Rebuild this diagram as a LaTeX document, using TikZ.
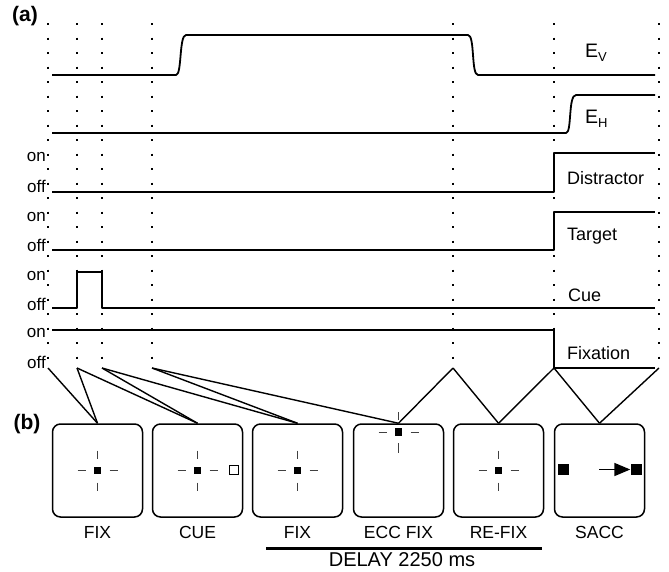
\documentclass[tikz,border=0pt]{standalone}
\usepackage{fontspec}
\setmainfont{Liberation Sans}
\usepackage{tikz}
\usetikzlibrary{positioning, arrows.meta, calc}

\begin{document}
\begin{tikzpicture}[x=1pt, y=-1pt,
    trace/.style={line width=1.8pt, line join=round},
    timeline/.style={line width=2.4pt, dash pattern=on 2.4pt off 12.1pt},
    link/.style={line width=1.4pt},
    panel/.style={draw, line width=1.5pt, rounded corners=8pt, minimum width=90pt,
                  minimum height=93pt, inner sep=0pt},
    fixpt/.style={fill=black, minimum size=7.5pt, inner sep=0pt},
    arm/.style={line width=1pt, black!75},
    sig/.style={anchor=west, font=\fontsize{18}{20}\selectfont, inner sep=0pt},
    eye/.style={anchor=west, font=\fontsize{19.5}{22}\selectfont, inner sep=0pt},
    onoff/.style={anchor=east, font=\fontsize{17}{19}\selectfont, inner sep=0pt},
    caption/.style={font=\fontsize{17.5}{20}\selectfont, inner sep=0pt},
    tag/.style={font=\fontsize{21}{24}\selectfont\bfseries, inner sep=0pt}
]
  \useasboundingbox (0,0) rectangle (669,571);

  % Event markers
  \foreach \x/\n in {48/d1, 77/d2, 102/d3, 152/d4, 453/d5, 554/d6, 659/d7}{
    \draw[timeline] (\x,23) -- (\x,368) coordinate (\n);
  }

  % Eye position traces
  \draw[trace] (52,75) -- (176,75) .. controls (182,75) and (179,35) .. (186,35)
    -- (468,35) .. controls (475,35) and (471,75) .. (478,75) -- (655,75);
  \draw[trace] (52,133) -- (566,133) .. controls (572,133) and (568,95) .. (576,95) -- (655,95);
  \node[eye] (ev) at (585,53) {E\raisebox{-0.35ex}{\fontsize{13}{13}\selectfont V}};
  \node[eye] (eh) at (585,119) {E\raisebox{-0.35ex}{\fontsize{13}{13}\selectfont H}};

  % Stimulus traces
  \draw[trace] (52,192) -- (554,192) -- (554,153) -- (655,153);
  \draw[trace] (52,250) -- (554,250) -- (554,212) -- (655,212);
  \draw[trace] (52,308) -- (77,308) -- (77,272) -- (102,272) -- (102,308) -- (655,308);
  \draw[trace] (52,330) -- (554,330) -- (554,368) -- (655,368);
  \node[sig] (dis) at (567,178) {Distractor};
  \node[sig] (tar) at (567,236) {Target};
  \node[sig] (cue) at (568,295) {Cue};
  \node[sig] (fix) at (567,353) {Fixation};

  % on / off levels
  \foreach \y/\n in {157/1, 217/2, 276/3, 333/4}{
    \node[onoff] (on\n) at (46,\y) {on};
  }
  \foreach \y/\n in {186/1, 245/2, 304/3, 362/4}{
    \node[onoff] (off\n) at (46,\y) {off};
  }

  \node[tag] (ta) at (25,16) {(a)};
  \node[tag] (tb) at (27,424) {(b)};

  % Screens
  \foreach \x/\n in {97.5/1, 197.5/2, 297.5/3, 398.5/4, 498.5/5, 599.5/6}{
    \node[panel] (p\n) at (\x,470.5) {};
  }

  % Fixation crosses
  \foreach \c in {p1, p2, p3, p5}{
    \node[fixpt] at (\c) {};
    \draw[arm] ($(\c)+(-20,0)$) -- ++(8,0);
    \draw[arm] ($(\c)+(12,0)$) -- ++(8,0);
    \draw[arm] ($(\c)+(0,-20)$) -- ++(0,8);
    \draw[arm] ($(\c)+(0,12)$) -- ++(0,8);
  }
  \node[draw, line width=0.9pt, minimum size=9.5pt, inner sep=0pt] (cuebox) at (234,470) {};

  \coordinate (ecc) at (398.5,432);
  \node[fixpt] at (ecc) {};
  \draw[arm] ($(ecc)+(-20,0)$) -- ++(8,0);
  \draw[arm] ($(ecc)+(12,0)$) -- ++(8,0);
  \draw[arm] ($(ecc)+(0,-20)$) -- ++(0,8);
  \draw[arm] ($(ecc)+(0,11)$) -- ++(0,10);

  \node[fixpt, minimum size=11pt] (sq1) at (563.5,469.5) {};
  \node[fixpt, minimum size=11pt] (sq2) at (636,469.5) {};
  \coordinate (sstart) at (599,469.5);
  \draw[line width=1.6pt, -{Triangle[length=16pt, width=13pt]}] (sstart) -- (sq2.west);

  % Markers to screens
  \draw[link] (d1) -- (p1.north);
  \draw[link] (d2) -- (p1.north);
  \draw[link] (d2) -- (p2.north);
  \draw[link] (d3) -- (p2.north);
  \draw[link] (d3) -- (p3.north);
  \draw[link] (d4) -- (p3.north);
  \draw[link] (d4) -- (p4.north);
  \draw[link] (d5) -- (p4.north);
  \draw[link] (d5) -- (p5.north);
  \draw[link] (d6) -- (p5.north);
  \draw[link] (d6) -- (p6.north);
  \draw[link] (d7) -- (p6.north);

  % Captions
  \foreach \x/\t/\n in {97.5/FIX/1, 197.5/CUE/2, 297.5/FIX/3, 398.5/ECC FIX/4, 498.5/RE-FIX/5, 599.5/SACC/6}{
    \node[caption] (l\n) at (\x,532) {\t};
  }
  \draw[line width=3pt] (266,548) -- (542,548);
  \node[caption, font=\fontsize{20}{22}\selectfont] (delay) at (402,560) {DELAY 2250 ms};
\end{tikzpicture}
\end{document}
